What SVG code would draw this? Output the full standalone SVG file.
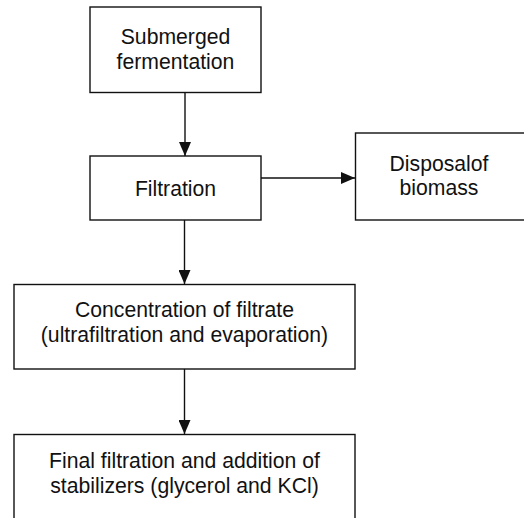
<svg xmlns="http://www.w3.org/2000/svg" width="524" height="518" viewBox="0 0 524 518">
  <style>
    .box { fill: #fff; stroke: #111; stroke-width: 1.4; }
    .lbl { font-family: "Liberation Sans", Arial, sans-serif; font-size: 21.2px; fill: #111; text-anchor: middle; }
    .link { stroke: #111; stroke-width: 1.4; fill: none; marker-end: url(#head); }
  </style>
  <defs>
    <marker id="head" markerUnits="userSpaceOnUse" markerWidth="14" markerHeight="12" refX="14" refY="6" orient="auto">
      <path d="M0,0 L14,6 L0,12 Z" fill="#111"/>
    </marker>
  </defs>
  <rect width="524" height="518" fill="#fff"/>

  <g id="connectors">
    <line class="link" x1="185" y1="93" x2="185" y2="156"/>
    <line class="link" x1="261" y1="178" x2="355" y2="178"/>
    <line class="link" x1="184.5" y1="220" x2="184.5" y2="284"/>
    <line class="link" x1="184.5" y1="369" x2="184.5" y2="434"/>
  </g>

  <g id="submerged-fermentation">
    <rect class="box" x="90" y="7" width="171" height="85.5"/>
    <text class="lbl" x="175.5" y="44">Submerged</text>
    <text class="lbl" x="175.5" y="69">fermentation</text>
  </g>

  <g id="filtration">
    <rect class="box" x="90" y="156" width="171" height="64"/>
    <text class="lbl" x="175.5" y="196">Filtration</text>
  </g>

  <g id="disposal-of-biomass">
    <rect class="box" x="355.5" y="133" width="200" height="87"/>
    <text class="lbl" x="439" y="171">Disposalof</text>
    <text class="lbl" x="439" y="195">biomass</text>
  </g>

  <g id="concentration">
    <rect class="box" x="14" y="284.5" width="341" height="84.5"/>
    <text class="lbl" x="184.5" y="317">Concentration of filtrate</text>
    <text class="lbl" x="184.5" y="342">(ultrafiltration and evaporation)</text>
  </g>

  <g id="final-filtration">
    <rect class="box" x="14" y="434.5" width="341" height="100"/>
    <text class="lbl" x="184.5" y="468">Final filtration and addition of</text>
    <text class="lbl" x="184.5" y="493">stabilizers (glycerol and KCl)</text>
  </g>
</svg>
